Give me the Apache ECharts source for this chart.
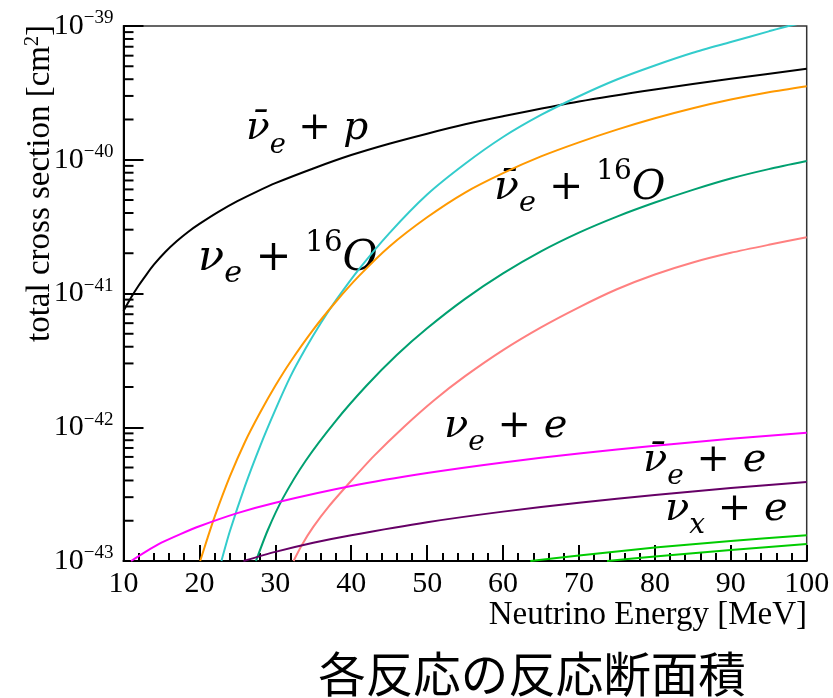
<!DOCTYPE html>
<html>
<head>
<meta charset="utf-8">
<script src="https://cdn.jsdelivr.net/npm/echarts@6/dist/echarts.min.js"></script>
<style>
  html, body { margin: 0; padding: 0; background: #ffffff; }
  #chart { width: 833px; height: 698px; }
</style>
</head>
<body>
<div id="chart"></div>
<script>
// Total cross sections [cm^2] versus neutrino energy [MeV]; each entry is [E, sigma].
const nuebarP = [
  [10, 7.41e-42], [11, 9.33e-42], [12, 1.148e-41], [13, 1.380e-41], [14, 1.641e-41],
  [15.5, 2.042e-41], [17, 2.455e-41], [18.5, 2.884e-41], [20, 3.311e-41], [22.5, 4.074e-41],
  [25, 4.898e-41], [27.5, 5.754e-41], [30, 6.683e-41], [35, 8.610e-41], [40, 1.084e-40],
  [45, 1.318e-40], [50, 1.567e-40], [55, 1.841e-40], [60, 2.113e-40], [70, 2.723e-40],
  [80, 3.350e-40], [90, 4.027e-40], [100, 4.786e-40]
];
const nueO16 = [
  [22.9, 1.0e-43], [24, 1.66e-43], [26, 3.63e-43], [28, 7.24e-43], [30, 1.349e-42],
  [32, 2.399e-42], [34, 3.890e-42], [36, 6.026e-42], [38, 8.913e-42], [41, 1.514e-41],
  [45, 2.818e-41], [50, 5.495e-41], [55, 9.333e-41], [60, 1.479e-40], [65, 2.163e-40],
  [70, 2.985e-40], [75, 3.981e-40], [80, 5.070e-40], [85, 6.310e-40], [90, 7.586e-40],
  [95, 9.12e-40], [97.6, 1.0e-39], [100, 1.07e-39]
];
const nuebarO16 = [
  [20.1, 1.0e-43], [21, 1.445e-43], [22, 2.138e-43], [24, 4.266e-43], [26, 7.762e-43],
  [28, 1.288e-42], [30, 2.042e-42], [32, 3.090e-42], [35, 5.370e-42], [38, 8.710e-42],
  [41, 1.349e-41], [45, 2.239e-41], [50, 3.715e-41], [55, 5.689e-41], [60, 7.943e-41],
  [65, 1.059e-40], [70, 1.349e-40], [75, 1.679e-40], [80, 2.042e-40], [85, 2.427e-40],
  [90, 2.818e-40], [95, 3.199e-40], [100, 3.548e-40]
];
const nuxO16 = [
  [27.45, 1.0e-43], [29, 1.698e-43], [31, 2.951e-43], [34, 5.623e-43], [38, 1.122e-42],
  [42, 2.042e-42], [46, 3.467e-42], [50, 5.495e-42], [55, 9.120e-42], [60, 1.413e-41],
  [65, 2.065e-41], [70, 2.851e-41], [75, 3.758e-41], [80, 4.786e-41], [85, 5.957e-41],
  [90, 7.244e-41], [95, 8.511e-41], [100, 9.772e-41]
];
const nuxbarO16 = [
  [32.4, 1.0e-43], [33.5, 1.318e-43], [35, 1.799e-43], [37, 2.541e-43], [40, 3.981e-43],
  [43, 6.109e-43], [47, 1.014e-42], [51, 1.607e-42], [55, 2.410e-42], [60, 3.776e-42],
  [65, 5.585e-42], [70, 7.889e-42], [75, 1.076e-41], [80, 1.387e-41], [85, 1.706e-41],
  [90, 2.014e-41], [95, 2.312e-41], [100, 2.630e-41]
];
const nueE = [
  [11, 1.0e-43], [13, 1.18e-43], [15, 1.37e-43], [17.5, 1.59e-43], [20, 1.82e-43],
  [25, 2.28e-43], [30, 2.73e-43], [40, 3.64e-43], [50, 4.55e-43], [60, 5.46e-43],
  [70, 6.37e-43], [80, 7.28e-43], [90, 8.19e-43], [100, 9.10e-43]
];
const nuebarE = [
  [25.8, 1.0e-43], [30, 1.17e-43], [35, 1.37e-43], [40, 1.56e-43], [50, 1.95e-43],
  [60, 2.34e-43], [70, 2.73e-43], [80, 3.12e-43], [90, 3.51e-43], [100, 3.90e-43]
];
const nuxE = [[63.6, 1.0e-43], [70, 1.10e-43], [80, 1.26e-43], [90, 1.41e-43], [100, 1.56e-43]];
const nuxbarE = [[73.7, 1.0e-43], [80, 1.08e-43], [90, 1.21e-43], [100, 1.34e-43]];

// Axis ranges and tick marks
const xRange = [10, 100];
const yRange = [1e-43, 1e-39];
const yDecades = [-43, -42, -41, -40];

// The log axis works in units of 1e-43 cm^2 so that its tick values stay well
// inside double-precision rounding; labels convert back to powers of ten.
const yUnitExp = -43;
const yUnit = Math.pow(10, yUnitExp);
function toAxis(sigma) { return sigma / yUnit; }
function scaled(data) { return data.map(function (p) { return [p[0], toAxis(p[1])]; }); }

const yMinorTicks = [];
yDecades.forEach(function (d) {
  for (let m = 2; m <= 9; m++) yMinorTicks.push(m * Math.pow(10, d - yUnitExp));
});

const serif = '"Liberation Serif", "Times New Roman", serif';
const mathFont = '"DejaVu Serif", serif';

function curve(data, color) {
  return {
    type: 'line', data: scaled(data), showSymbol: false, smooth: 0.25,
    clip: true, silent: true,
    lineStyle: { color: color, width: 2, join: 'round' }
  };
}

// Rich-text styles for the reaction labels
function mathRich(color, size) {
  return {
    i: { fontFamily: mathFont, fontStyle: 'italic', fontSize: size, color: color, lineHeight: 60 },
    n: { fontFamily: mathFont, fontSize: size, color: color, lineHeight: 60 },
    sub: { fontFamily: mathFont, fontStyle: 'italic', fontSize: size * 0.7, color: color, lineHeight: 40, verticalAlign: 'bottom' },
    sup: { fontFamily: mathFont, fontSize: size * 0.68, color: color, lineHeight: 18, verticalAlign: 'top' }
  };
}
function mathLabel(x, y, text, color, size) {
  return {
    type: 'text', x: x, y: y, silent: true,
    style: { text: text, rich: mathRich(color, size), textVerticalAlign: 'middle' }
  };
}

const chart = echarts.init(document.getElementById('chart'), null, { renderer: 'canvas' });

chart.setOption({
  animation: false,
  backgroundColor: '#ffffff',
  grid: {
    left: 123.5, right: 26.3, top: 26, bottom: 137,
    show: true, borderColor: '#333333', borderWidth: 1.5, backgroundColor: 'transparent'
  },
  xAxis: {
    type: 'value', min: xRange[0], max: xRange[1], interval: 10,
    axisLine: { show: true, onZero: false, lineStyle: { color: '#000', width: 2 } },
    axisTick: { show: true, inside: true, length: 16, lineStyle: { color: '#000', width: 2 } },
    minorTick: { show: true, splitNumber: 5, length: 8, lineStyle: { color: '#000', width: 2 } },
    splitLine: { show: false },
    axisLabel: { margin: 8, color: '#000', fontFamily: serif, fontSize: 30 }
  },
  yAxis: {
    type: 'log', logBase: 10, min: toAxis(yRange[0]), max: toAxis(yRange[1]),
    axisLine: { show: true, lineStyle: { color: '#000', width: 2 } },
    axisTick: { show: true, inside: true, length: 20, lineStyle: { color: '#000', width: 2 } },
    splitLine: { show: false },
    axisLabel: {
      margin: 10, color: '#000',
      formatter: function (v) {
        const e = Math.round(Math.log10(v)) + yUnitExp;
        return '{b|10}{s|\u2212' + Math.abs(e) + '}';
      },
      rich: {
        b: { fontFamily: serif, fontSize: 30, color: '#000', lineHeight: 34 },
        s: { fontFamily: serif, fontSize: 19, color: '#000', lineHeight: 20, verticalAlign: 'top' }
      }
    }
  },
  series: [
    curve(nuebarP, '#000000'),
    curve(nueO16, '#33cccc'),
    curve(nuebarO16, '#ff9900'),
    curve(nuxO16, '#00a070'),
    curve(nuxbarO16, '#ff8080'),
    curve(nueE, '#ff00ff'),
    curve(nuebarE, '#660066'),
    curve(nuxE, '#00cc00'),
    curve(nuxbarE, '#00cc00'),
    {
      // minor ticks of the log axis, one per 2..9 x 10^n
      type: 'custom', silent: true, clip: false, z: 6,
      data: yMinorTicks.map(function (v) { return [xRange[0], v]; }),
      renderItem: function (params, api) {
        const p = api.coord([api.value(0), api.value(1)]);
        return {
          type: 'line',
          shape: { x1: p[0], y1: p[1], x2: p[0] + 10, y2: p[1] },
          style: { stroke: '#000', lineWidth: 2 }
        };
      }
    }
  ],
  graphic: [
    {
      type: 'text', x: 40, y: 25, rotation: Math.PI / 2, silent: true,
      style: {
        text: '{t|total cross section [cm}{s|2}{t|]}',
        textAlign: 'right', textVerticalAlign: 'middle',
        rich: {
          t: { fontFamily: serif, fontSize: 33, color: '#000', lineHeight: 34 },
          s: { fontFamily: serif, fontSize: 20, color: '#000', lineHeight: 20, verticalAlign: 'top' }
        }
      }
    },
    {
      type: 'text', x: 807, y: 599, silent: true,
      style: { text: 'Neutrino Energy [MeV]', fontFamily: serif, fontSize: 33, fill: '#000', textAlign: 'right', textVerticalAlign: 'top' }
    },
    {
      type: 'text', x: 532, y: 674, silent: true,
      style: { text: '各反応の反応断面積', fontFamily: '"Noto Sans CJK JP", sans-serif', fontSize: 47.5, fill: '#000', textAlign: 'center', textVerticalAlign: 'middle' }
    },
    mathLabel(246, 129, '{i|\u03bd\u0304}{sub|e}{n| + }{i|p}', '#000000', 39),
    mathLabel(494, 188, '{i|\u03bd\u0304}{sub|e}{n| + }{sup|16}{i|O}', '#ed7d31', 41),
    mathLabel(198, 259, '{i|\u03bd}{sub|e}{n| + }{sup|16}{i|O}', '#00b0f0', 43),
    mathLabel(444, 427, '{i|\u03bd}{sub|e}{n| + }{i|e}', '#ff66ff', 40),
    mathLabel(643, 461, '{i|\u03bd\u0304}{sub|e}{n| + }{i|e}', '#9e2a6f', 40),
    mathLabel(665, 510, '{i|\u03bd}{sub|x}{n| + }{i|e}', '#00b050', 40)
  ]
});
</script>
</body>
</html>
